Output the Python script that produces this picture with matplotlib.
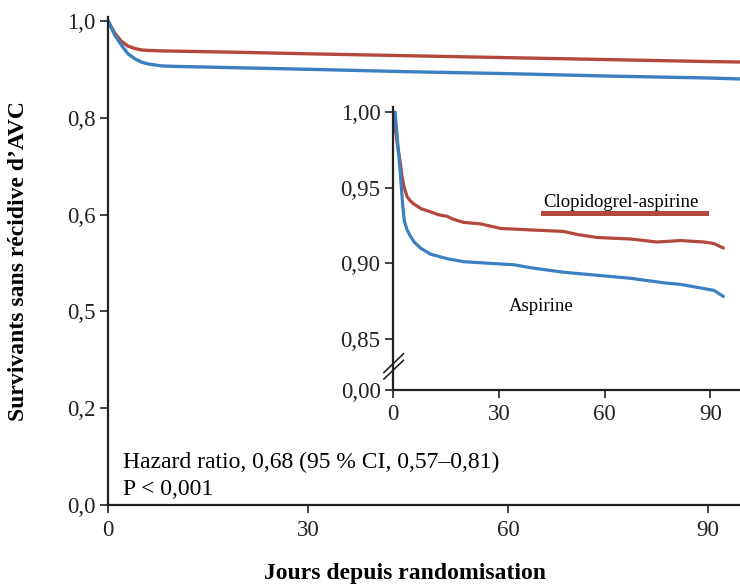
import matplotlib
matplotlib.use('Agg')
import matplotlib.pyplot as plt

plt.rcParams['font.family'] = ['Liberation Serif', 'DejaVu Serif']

RED = '#b5483c'
BLUE = '#3b80c0'

# main panel curves
main_days = [0, 1, 2, 3, 4, 5, 6, 8, 10, 20, 30, 45, 60, 75, 90, 95]
main_clopi = [1.0, 0.975, 0.958, 0.948, 0.943, 0.940, 0.939, 0.938, 0.9375,
              0.935, 0.932, 0.928, 0.924, 0.920, 0.916, 0.915]
main_aspi = [1.0, 0.971, 0.950, 0.932, 0.922, 0.915, 0.911, 0.907, 0.906,
             0.903, 0.900, 0.895, 0.891, 0.886, 0.882, 0.880]
main_yticks = [0.0, 0.2, 0.4, 0.6, 0.8, 1.0]
main_ylabels = ['0,0', '0,2', '0,5', '0,6', '0,8', '1,0']
xticks = [0, 30, 60, 90]

# inset curves
ins_days_c = [0, 1.1, 2.1, 2.5, 3.2, 4, 5, 6, 8, 10.6, 13, 15.3, 17.2, 20,
              24.8, 30.5, 39, 48.4, 52.2, 57.9, 67.4, 74.9, 81.5, 88.2, 91,
              93.7]
ins_clopi = [1.0, 0.981, 0.966, 0.958, 0.950, 0.944, 0.941, 0.939, 0.936,
             0.934, 0.932, 0.931, 0.929, 0.927, 0.926, 0.923, 0.922, 0.921,
             0.919, 0.917, 0.916, 0.914, 0.915, 0.914, 0.913, 0.910]
ins_days_a = [0.6, 1.5, 2.1, 2.7, 3.2, 4, 4.9, 6, 7.8, 10.6, 15.3, 20, 29.5,
              34.2, 39, 48.4, 57.9, 67.4, 76.8, 81.5, 86.3, 91, 93.7]
ins_aspi = [1.0, 0.975, 0.959, 0.940, 0.928, 0.922, 0.918, 0.914, 0.910,
            0.906, 0.903, 0.901, 0.8996, 0.899, 0.897, 0.894, 0.892, 0.890,
            0.887, 0.886, 0.884, 0.882, 0.878]
ins_bottom = 0.8161   # the broken axis: this point is labelled 0,00
ins_yticks = [ins_bottom, 0.85, 0.90, 0.95, 1.00]
ins_ylabels = ['0,00', '0,85', '0,90', '0,95', '1,00']

fig = plt.figure(figsize=(7.4, 5.87), dpi=100)

ax = fig.add_axes([108/740, 82/587, 632/740, 488/587])
ax.plot(main_days, main_clopi, color=RED, lw=2.4, solid_capstyle='round')
ax.plot(main_days, main_aspi, color=BLUE, lw=2.4, solid_capstyle='round')
ax.set_xlim(0, 94.8)
ax.set_ylim(0, 1.008)
ax.set_xticks(xticks)
ax.set_xticklabels([str(t) for t in xticks])
ax.set_yticks(main_yticks)
ax.set_yticklabels(main_ylabels)
for s in ['top', 'right']:
    ax.spines[s].set_visible(False)
for s in ['left', 'bottom']:
    ax.spines[s].set_linewidth(1.6)
    ax.spines[s].set_color('#222222')
ax.tick_params(direction='out', length=6, width=1.2, labelsize=16.5,
               colors='#222222', pad=3)
ax.tick_params(axis='x', pad=5)
ax.set_xlabel('Jours depuis randomisation', fontsize=17, fontweight='bold')
ax.xaxis.set_label_coords(0.47, -0.118)
ax.set_ylabel('Survivants sans récidive d’AVC', fontsize=17,
              fontweight='bold')
ax.yaxis.set_label_coords(-0.125, 0.5)
ax.text(0.024, 0.088, 'Hazard ratio, 0,68 (95 % CI, 0,57–0,81)',
        transform=ax.transAxes, fontsize=17, va='center', ha='left')
ax.text(0.024, 0.031, 'P < 0,001',
        transform=ax.transAxes, fontsize=17, va='center', ha='left')

ins = fig.add_axes([393/740, 197/587, 347/740, 282.5/587])
ins.plot(ins_days_c, ins_clopi, color=RED, lw=2.3, solid_capstyle='round')
ins.plot(ins_days_a, ins_aspi, color=BLUE, lw=2.3, solid_capstyle='round')
ins.set_xlim(0, 98.4)
ins.set_ylim(ins_bottom, 1.003)
ins.set_xticks(xticks)
ins.set_xticklabels([str(t) for t in xticks])
ins.set_yticks(ins_yticks)
ins.set_yticklabels(ins_ylabels)
ins.patch.set_alpha(0)
for s in ['top', 'right']:
    ins.spines[s].set_visible(False)
for s in ['left', 'bottom']:
    ins.spines[s].set_linewidth(1.6)
    ins.spines[s].set_color('#222222')
ins.tick_params(direction='out', length=6, width=1.2, labelsize=16.5,
                colors='#222222', pad=3)
ins.tick_params(axis='x', pad=4)

# break marks on the inset y axis
for y0 in (0.039, 0.062):
    ins.plot([-0.026, 0.030], [y0, y0 + 0.066], transform=ins.transAxes,
             color='#222222', lw=1.2, clip_on=False)

# labels inside the inset
ins.text(0.657, 0.648, 'Clopidogrel-aspirine', transform=ins.transAxes,
         fontsize=13.5, ha='center', va='baseline')
ins.plot([0.432, 0.902], [0.627, 0.627], transform=ins.transAxes,
         color=RED, lw=3.6)
ins.text(0.427, 0.294, 'Aspirine', transform=ins.transAxes, fontsize=13.5,
         ha='center', va='center')

fig.savefig('out.png', dpi=100)
